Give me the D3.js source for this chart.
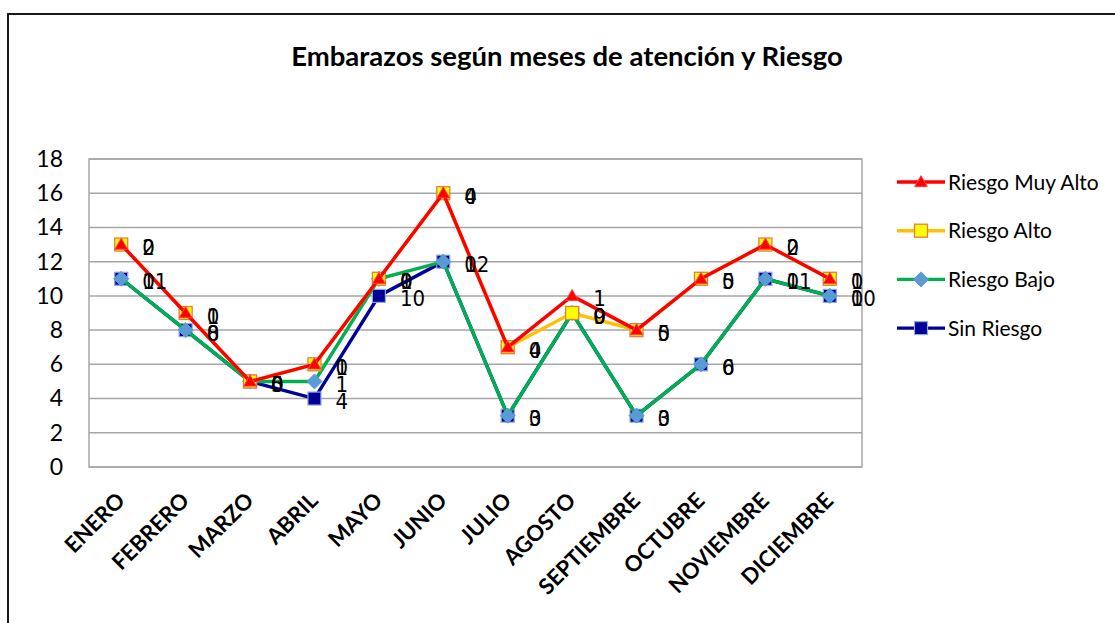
<!DOCTYPE html>
<html>
<head>
<meta charset="utf-8">
<script src="https://cdn.jsdelivr.net/npm/d3@7"></script>
<style>
  body { margin: 0; background: #fff; }
  svg { display: block; }
</style>
</head>
<body>
<div id="chart"></div>
<script>
// datos del grafico
var meses = ["ENERO", "FEBRERO", "MARZO", "ABRIL", "MAYO", "JUNIO", "JULIO",
             "AGOSTO", "SEPTIEMBRE", "OCTUBRE", "NOVIEMBRE", "DICIEMBRE"];
var sinRiesgo     = [11, 8, 5, 4, 10, 12, 3, 9, 3, 6, 11, 10];
var riesgoBajo    = [0, 0, 0, 1, 1, 0, 0, 0, 0, 0, 0, 0];
var riesgoAlto    = [2, 1, 0, 1, 0, 4, 4, 0, 5, 5, 2, 1];
var riesgoMuyAlto = [0, 0, 0, 0, 0, 0, 0, 1, 0, 0, 0, 0];
var yTicks = [0, 2, 4, 6, 8, 10, 12, 14, 16, 18];

var series = [
  {key: "sin", name: "Sin Riesgo", values: sinRiesgo, color: "#000099", marker: "square"},
  {key: "bajo", name: "Riesgo Bajo", values: riesgoBajo, color: "#00b050", marker: "diamond"},
  {key: "alto", name: "Riesgo Alto", values: riesgoAlto, color: "#ffc000", marker: "yellowsq"},
  {key: "muy", name: "Riesgo Muy Alto", values: riesgoMuyAlto, color: "#ff0000", marker: "triangle"}
];

var width = 1115, height = 623;
var plot = {left: 89, right: 862, top: 159, bottom: 467};
var fuente = "Lato, 'Open Sans', sans-serif";

var svg = d3.select("#chart").append("svg")
    .attr("width", width)
    .attr("height", height);

// marco exterior
svg.append("rect")
    .attr("x", 8).attr("y", 14)
    .attr("width", width).attr("height", height)
    .attr("fill", "#fff")
    .attr("stroke", "#000").attr("stroke-width", 1.8);

svg.append("text")
    .attr("x", 567).attr("y", 66)
    .attr("text-anchor", "middle")
    .attr("font-family", fuente)
    .attr("font-weight", "bold")
    .attr("font-size", 27.5)
    .text("Embarazos según meses de atención y Riesgo");

var x = d3.scaleBand().domain(meses).range([plot.left, plot.right]);
var y = d3.scaleLinear().domain([0, 18]).range([plot.bottom, plot.top]);
var cx = function(m) { return x(m) + x.bandwidth() / 2; };

// lineas de cuadricula
svg.append("g")
  .selectAll("line")
  .data(yTicks)
  .enter().append("line")
    .attr("x1", plot.left).attr("x2", plot.right)
    .attr("y1", function(d) { return y(d); })
    .attr("y2", function(d) { return y(d); })
    .attr("stroke", "#a6a6a6").attr("stroke-width", 1.5);

svg.append("rect")
    .attr("x", plot.left).attr("y", plot.top)
    .attr("width", plot.right - plot.left).attr("height", plot.bottom - plot.top)
    .attr("fill", "none").attr("stroke", "#a6a6a6").attr("stroke-width", 1.5);

// eje Y
var yAxis = svg.append("g")
    .attr("transform", "translate(" + plot.left + ",0)")
    .call(d3.axisLeft(y).tickValues(yTicks).tickSize(0).tickPadding(26));
yAxis.select(".domain").remove();
yAxis.selectAll("text")
    .attr("font-family", fuente)
    .attr("font-size", 23)
    .attr("fill", "#000");

// eje X
svg.append("g")
  .selectAll("text")
  .data(meses)
  .enter().append("text")
    .attr("transform", function(d) {
      return "translate(" + (cx(d) + 5) + ",502) rotate(-45)";
    })
    .attr("text-anchor", "end")
    .attr("font-family", fuente)
    .attr("font-weight", "bold")
    .attr("font-size", 22)
    .text(function(d) { return d; });

// valores acumulados
var tabla = meses.map(function(m, i) {
  var row = {mes: m};
  series.forEach(function(s) { row[s.key] = s.values[i]; });
  return row;
});
var stack = d3.stack().keys(series.map(function(s) { return s.key; }));
var apilado = stack(tabla);

var line = d3.line()
    .x(function(d) { return cx(d.data.mes); })
    .y(function(d) { return y(d[1]); });

function drawMarker(g, s, px, py) {
  if (s.marker === "square") {
    g.append("rect").attr("x", px - 6.5).attr("y", py - 6.5).attr("width", 13).attr("height", 13)
      .attr("fill", "#000099").attr("stroke", "#8fa8e0").attr("stroke-width", 1.2);
  } else if (s.marker === "diamond") {
    g.append("path").attr("d", "M0,-7.5L7.5,0L0,7.5L-7.5,0Z")
      .attr("transform", "translate(" + px + "," + py + ")")
      .attr("fill", "#5b9bd5").attr("stroke", "#5b9bd5").attr("stroke-width", 1);
  } else if (s.marker === "yellowsq") {
    g.append("rect").attr("x", px - 6.5).attr("y", py - 6.5).attr("width", 13).attr("height", 13)
      .attr("fill", "#ffff00").attr("stroke", "#e0803a").attr("stroke-width", 1.3);
  } else {
    g.append("path").attr("d", d3.symbol(d3.symbolTriangle, 70)())
      .attr("transform", "translate(" + px + "," + (py + 1) + ")")
      .attr("fill", "#ff0000").attr("stroke", "#ff4040");
  }
}

apilado.forEach(function(layer, k) {
  var s = series[k];
  var g = svg.append("g");
  g.append("path")
      .datum(layer)
      .attr("fill", "none")
      .attr("stroke", s.color)
      .attr("stroke-width", 3.4)
      .attr("d", line);
  layer.forEach(function(d) {
    drawMarker(g, s, cx(d.data.mes), y(d[1]));
  });
});

// etiquetas de datos (valor individual)
apilado.forEach(function(layer, k) {
  var s = series[k];
  svg.append("g")
    .selectAll("text")
    .data(layer)
    .enter().append("text")
      .attr("x", function(d) { return cx(d.data.mes) + 21; })
      .attr("y", function(d) { return y(d[1]) + 10.5; })
      .attr("font-family", "'DejaVu Sans Condensed', 'DejaVu Sans', sans-serif")
      .attr("font-stretch", "condensed")
      .attr("font-size", 22)
      .attr("fill", "#000")
      .text(function(d) { return d.data[s.key]; });
});

// leyenda
var leyenda = series.slice().reverse();
var lg = svg.append("g");
leyenda.forEach(function(s, i) {
  var ly = 182 + i * 48.7;
  lg.append("line")
      .attr("x1", 897).attr("x2", 945)
      .attr("y1", ly).attr("y2", ly)
      .attr("stroke", s.color).attr("stroke-width", 3.4);
  drawMarker(lg, s, 921, ly);
  lg.append("text")
      .attr("x", 948).attr("y", ly + 7.5)
      .attr("font-family", fuente)
      .attr("font-size", 21)
      .text(s.name);
});
</script>
</body>
</html>
